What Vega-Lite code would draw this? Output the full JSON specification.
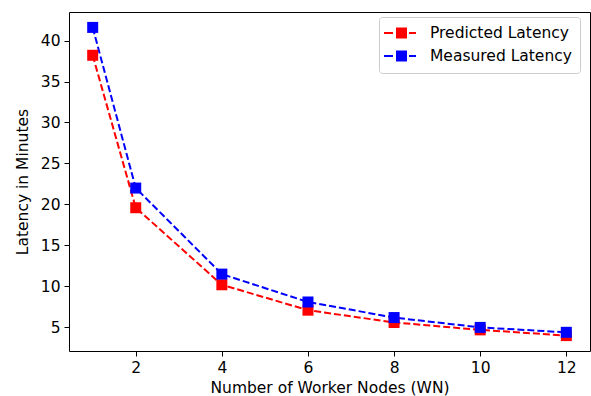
{
  "$schema": "https://vega.github.io/schema/vega-lite/v6.json",
  "width": 521,
  "height": 339,
  "autosize": "none",
  "padding": {"left": 69, "top": 12, "right": 1, "bottom": 45},
  "config": {
    "font": "DejaVu Sans",
    "view": {"stroke": "#000000", "strokeWidth": 1},
    "axis": {
      "grid": false,
      "domain": false,
      "tickColor": "#000000",
      "tickSize": 5,
      "tickWidth": 1,
      "labelColor": "#000000",
      "labelFont": "DejaVu Sans",
      "labelFontSize": 15.5,
      "labelPadding": 4,
      "titleColor": "#000000",
      "titleFont": "DejaVu Sans",
      "titleFontSize": 15.5,
      "titleFontWeight": "normal"
    }
  },
  "data": {
    "values": [
      {"wn": 1, "latency": 38.2, "series": "Predicted Latency"},
      {"wn": 2, "latency": 19.6, "series": "Predicted Latency"},
      {"wn": 4, "latency": 10.2, "series": "Predicted Latency"},
      {"wn": 6, "latency": 7.1, "series": "Predicted Latency"},
      {"wn": 8, "latency": 5.6, "series": "Predicted Latency"},
      {"wn": 10, "latency": 4.7, "series": "Predicted Latency"},
      {"wn": 12, "latency": 4.0, "series": "Predicted Latency"},
      {"wn": 1, "latency": 41.6, "series": "Measured Latency"},
      {"wn": 2, "latency": 22.0, "series": "Measured Latency"},
      {"wn": 4, "latency": 11.5, "series": "Measured Latency"},
      {"wn": 6, "latency": 8.1, "series": "Measured Latency"},
      {"wn": 8, "latency": 6.2, "series": "Measured Latency"},
      {"wn": 10, "latency": 5.0, "series": "Measured Latency"},
      {"wn": 12, "latency": 4.4, "series": "Measured Latency"}
    ]
  },
  "encoding": {
    "x": {
      "field": "wn",
      "type": "quantitative",
      "scale": {"domain": [0.45, 12.55], "nice": false, "zero": false},
      "axis": {"values": [2, 4, 6, 8, 10, 12], "title": "Number of Worker Nodes (WN)", "titlePadding": 5}
    },
    "y": {
      "field": "latency",
      "type": "quantitative",
      "scale": {"domain": [2.12, 43.48], "nice": false, "zero": false},
      "axis": {"values": [5, 10, 15, 20, 25, 30, 35, 40], "title": "Latency in Minutes", "titlePadding": 10}
    },
    "color": {
      "field": "series",
      "type": "nominal",
      "sort": ["Predicted Latency", "Measured Latency"],
      "scale": {"domain": ["Predicted Latency", "Measured Latency"], "range": ["#ff0000", "#0000ff"]},
      "legend": {
        "title": null,
        "orient": "none",
        "legendX": 310,
        "legendY": 5,
        "labelFontSize": 15.5,
        "labelFont": "DejaVu Sans",
        "labelColor": "#000000",
        "labelExpr": "datum.label + ' '",
        "symbolType": "M-1.375,-0.125H-0.25V0.125H-1.375Z M0.125,-0.6875H1.5V0.6875H0.125Z M1.75,-0.125H2.625V0.125H1.75Z",
        "symbolSize": 256,
        "symbolStrokeWidth": 0,
        "symbolOpacity": 1,
        "rowPadding": 6,
        "labelOffset": 27,
        "padding": 8,
        "strokeColor": "#cccccc",
        "fillColor": "#ffffff",
        "cornerRadius": 3
      }
    },
    "order": {"field": "wn", "type": "quantitative"}
  },
  "layer": [
    {
      "mark": {"type": "line", "strokeWidth": 2, "strokeDash": [7, 3]},
      "encoding": {"detail": {"field": "series"}}
    },
    {
      "mark": {"type": "point", "shape": "square", "filled": true, "size": 121, "opacity": 1}
    }
  ]
}
